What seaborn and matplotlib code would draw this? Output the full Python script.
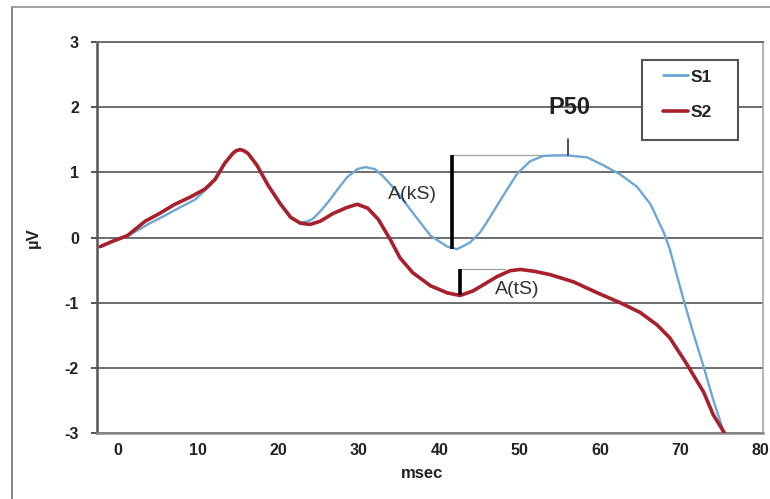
import numpy as np
import pandas as pd
import seaborn as sns
import matplotlib
matplotlib.use("Agg")
import matplotlib.pyplot as plt
from matplotlib.patches import Rectangle
from matplotlib.lines import Line2D

# Averaged evoked responses (µV) over latency (msec)
s1_ms = [-2.2, -0.7, 1.2, 4.0, 5.9, 7.7, 9.6, 11.5, 13.3, 14.3, 14.7, 15.2, 15.7,
         16.2, 17.3, 18.7, 20.2, 21.5, 22.7, 23.7, 24.3, 25.4, 26.4, 27.6, 28.5,
         29.8, 30.8, 32.0, 33.0, 34.7, 36.7, 38.9, 41.0, 42.2, 43.8, 45.1, 46.0,
         46.9, 47.9, 49.7, 51.3, 52.9, 54.4, 55.9, 58.4, 60.4, 62.5, 64.6, 66.3,
         67.9, 68.7, 70.4, 71.6, 72.9, 74.1, 75.4]
s1_uv = [-0.14, -0.06, 0.02, 0.22, 0.34, 0.46, 0.58, 0.80, 1.14, 1.29, 1.33, 1.35,
         1.33, 1.29, 1.11, 0.80, 0.52, 0.31, 0.23, 0.25, 0.29, 0.43, 0.58, 0.78,
         0.92, 1.05, 1.08, 1.05, 0.94, 0.71, 0.38, 0.03, -0.14, -0.18, -0.08, 0.08,
         0.25, 0.43, 0.63, 0.98, 1.17, 1.25, 1.26, 1.26, 1.23, 1.11, 0.97, 0.78,
         0.51, 0.09, -0.18, -0.95, -1.46, -1.98, -2.49, -2.98]

s2_ms = [-2.2, -0.7, 1.2, 3.4, 5.2, 7.1, 9.0, 10.8, 12.1, 13.3, 14.3, 14.7, 15.2,
         15.7, 16.2, 17.3, 18.7, 20.2, 21.5, 22.7, 23.9, 25.2, 26.8, 28.5, 29.8,
         31.1, 32.4, 33.9, 35.1, 36.7, 38.9, 41.0, 42.6, 44.2, 45.7, 47.2, 48.8,
         50.1, 51.9, 53.8, 56.7, 59.7, 62.5, 65.0, 67.1, 68.7, 70.7, 72.9, 74.1, 75.5]
s2_uv = [-0.14, -0.06, 0.03, 0.25, 0.37, 0.51, 0.62, 0.74, 0.89, 1.14, 1.29, 1.33,
         1.35, 1.33, 1.29, 1.11, 0.80, 0.52, 0.31, 0.22, 0.20, 0.25, 0.37, 0.46,
         0.51, 0.45, 0.28, -0.03, -0.31, -0.54, -0.74, -0.85, -0.89, -0.82, -0.71,
         -0.60, -0.51, -0.49, -0.52, -0.57, -0.68, -0.85, -1.00, -1.15, -1.34,
         -1.54, -1.92, -2.37, -2.72, -3.00]

series_names = ["S1", "S2"]
x_ticks = [0, 10, 20, 30, 40, 50, 60, 70, 80]
y_ticks = [-3, -2, -1, 0, 1, 2, 3]

# Latencies of the amplitude markers
ks_ms = 41.6      # A(kS) bar
ts_ms = 42.6      # A(tS) bar
p50_ms = 56.0     # P50 peak tick
ts_end_ms = 48.2  # end of the A(tS) reference line

df = pd.concat([
    pd.DataFrame({"msec": s1_ms, "uV": s1_uv, "series": series_names[0]}),
    pd.DataFrame({"msec": s2_ms, "uV": s2_uv, "series": series_names[1]}),
])

sns.set_theme(style="white")
plt.rcParams["font.family"] = ["Liberation Sans", "DejaVu Sans"]
plt.rcParams["axes.unicode_minus"] = False

blue = "#6ea6d6"
red = "#a8202c"
grid_c = "#6e6e6e"

fig = plt.figure(figsize=(7.7, 4.99), dpi=100)
ax = fig.add_axes([97 / 770, (499 - 433) / 499, (763 - 97) / 770, (433 - 42) / 499])

sns.lineplot(data=df, x="msec", y="uV", hue="series", hue_order=series_names,
             palette=[blue, red], ax=ax, legend=False, sort=True,
             estimator=None, zorder=3)
lines = ax.get_lines()
lines[0].set_linewidth(1.7)
lines[1].set_linewidth(2.6)
for ln in lines:
    ln.set_solid_capstyle("round")
    ln.set_solid_joinstyle("round")

ax.set_xlim(-2.6, 80.3)
ax.set_ylim(-3, 3)
ax.set_xticks(x_ticks)
ax.set_yticks(y_ticks)
ax.tick_params(axis="x", length=0, pad=7, labelsize=11.5, labelcolor="#222")
ax.tick_params(axis="y", length=4, width=1.4, color="#555", direction="out",
               pad=9, labelsize=11.5, labelcolor="#222", left=True)
for lab in ax.get_xticklabels() + ax.get_yticklabels():
    lab.set_fontweight("bold")

ax.yaxis.grid(True, color=grid_c, linewidth=1.4, zorder=1)
ax.xaxis.grid(False)
ax.set_axisbelow(True)

ax.spines["left"].set_color("#555")
ax.spines["left"].set_linewidth(1.8)
ax.spines["bottom"].set_color("#8a8a8a")
ax.spines["bottom"].set_linewidth(1.8)
ax.spines["top"].set_color(grid_c)
ax.spines["top"].set_linewidth(1.4)
ax.spines["right"].set_color("#a8a8a8")
ax.spines["right"].set_linewidth(1.2)

ax.set_xlabel("msec", fontsize=12, fontweight="bold", color="#222")
ax.set_ylabel("µV", fontsize=12, fontweight="bold", color="#222")
ax.xaxis.set_label_coords(0.488, -0.085)
ax.yaxis.set_label_coords(-0.085, 0.5)

# Amplitude markers computed from the traces
s1 = np.array(s1_uv); s1x = np.array(s1_ms)
s2 = np.array(s2_uv); s2x = np.array(s2_ms)
ks_lo = s1[(s1x > 35) & (s1x < 50)].min()
ks_hi = s1[(s1x > 45) & (s1x < 65)].max()
ts_lo = s2[(s2x > 35) & (s2x < 50)].min()
ts_hi = s2[(s2x > 45) & (s2x < 55)].max()

ax.plot([ks_ms, p50_ms], [ks_hi, ks_hi], color="#a0a0a0", lw=0.9, zorder=2)
ax.plot([ks_ms, ks_ms], [ks_lo, ks_hi], color="black", lw=2.6, zorder=4,
        solid_capstyle="butt")
ax.plot([ts_ms, ts_end_ms], [ts_hi, ts_hi], color="#a0a0a0", lw=0.9, zorder=2)
ax.plot([ts_ms, ts_ms], [ts_lo, ts_hi], color="black", lw=2.6, zorder=4,
        solid_capstyle="butt")
ax.plot([p50_ms, p50_ms], [ks_hi, ks_hi + 0.25], color="#333", lw=1.2, zorder=4)

ax.text(36.7, 0.66, "A(kS)", fontsize=14, color="#333", ha="center", va="center")
ax.text(49.7, -0.80, "A(tS)", fontsize=14, color="#333", ha="center", va="center")
ax.text(56.2, 2.0, "P50", fontsize=17, fontweight="bold", color="#222",
        ha="center", va="center", zorder=5)

# Legend box with the two series
ax.add_patch(Rectangle((0.818, 0.749), 0.144, 0.205, transform=ax.transAxes,
                       facecolor="white", edgecolor="#555", linewidth=1.5,
                       zorder=6))
handles = [Line2D([], [], color=blue, lw=2.0), Line2D([], [], color=red, lw=2.6)]
leg = ax.legend(handles, series_names, loc="upper left",
                bbox_to_anchor=(0.85, 0.93), frameon=False, borderpad=0,
                borderaxespad=0, handlelength=1.44, handletextpad=0.12,
                labelspacing=1.15, prop={"weight": "bold", "size": 12.5})
leg.set_zorder(7)
for t in leg.get_texts():
    t.set_color("#222")

# Outer chart frame
fig.add_artist(Line2D([12 / 770, 12 / 770], [0, 1 - 7 / 499], color="#7a7a7a",
                      lw=1.3, transform=fig.transFigure))
fig.add_artist(Line2D([12 / 770, 1], [1 - 7 / 499, 1 - 7 / 499], color="#9a9a9a",
                      lw=1.3, transform=fig.transFigure))

fig.savefig("out.png", dpi=100, facecolor="white")
